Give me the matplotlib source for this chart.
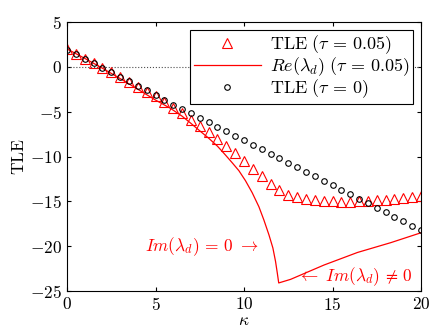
import numpy as np
import matplotlib
matplotlib.use("Agg")
import matplotlib.pyplot as plt

plt.rcParams['mathtext.fontset'] = 'cm'
plt.rcParams['font.family'] = 'serif'
plt.rcParams['font.serif'] = ['cmr10']
plt.rcParams['axes.formatter.use_mathtext'] = True
plt.rcParams['font.size'] = 12.5

# kappa grid of the markers
kappa = np.arange(0, 20.01, 0.5)

# TLE, tau = 0.05 (triangles)
tle_tau = [1.95, 1.43, 0.93, 0.43, -0.10, -0.62, -1.15, -1.68, -2.20, -2.75,
           -3.30, -3.90, -4.55, -5.20, -5.90, -6.55, -7.25, -8.05, -8.85, -9.65,
           -10.45, -11.35, -12.20, -13.05, -13.70, -14.25, -14.55, -14.75, -14.85, -14.95,
           -15.00, -15.05, -15.05, -15.00, -14.95, -14.90, -14.80, -14.70, -14.60, -14.55,
           -14.45]

# TLE, tau = 0 (circles)
tle_0 = [1.88, 1.43, 0.90, 0.43, -0.10, -0.60, -1.10, -1.60, -2.10, -2.60,
         -3.10, -3.65, -4.20, -4.68, -5.20, -5.70, -6.18, -6.70, -7.20, -7.70,
         -8.20, -8.70, -9.20, -9.75, -10.20, -10.70, -11.20, -11.70, -12.20, -12.70,
         -13.20, -13.70, -14.20, -14.70, -15.20, -15.70, -16.20, -16.70, -17.20, -17.70,
         -18.25]

# Re(lambda_d), tau = 0.05 (line)
re_k = [0, 1, 2, 3, 4, 5, 5.84, 6.5, 7, 7.54, 8.0, 8.5, 8.95, 9.33, 9.71, 10.08,
        10.46, 10.84, 11.12, 11.41, 11.63, 11.78, 11.88, 11.96,
        12.63, 14.52, 16.41, 18.3, 20]
re_v = [2.0, 0.95, -0.15, -1.3, -2.5, -3.7, -4.62, -5.5, -6.3, -7.2, -7.95, -8.85,
        -9.83, -10.69, -11.58, -12.69, -14.03, -15.6, -17.07, -18.75, -20.2, -21.7,
        -23.0, -24.1, -23.7, -22.1, -20.7, -19.6, -18.5]

fig = plt.figure(figsize=(4.36, 3.34), dpi=100)
ax = fig.add_axes([0.1537, 0.1287, 0.812, 0.8053])

ax.plot([0, 20], [0, 0], ':', color='0.3', lw=0.8)
ax.plot(kappa, tle_tau, '^', ms=7, mfc='none', mec='red', mew=0.8,
        label=r'$\mathrm{TLE}\ (\tau\,=\,0.05)$')
ax.plot(re_k, re_v, '-', color='red', lw=0.9,
        label=r'$Re(\lambda_d)\ (\tau\,=\,0.05)$')
ax.plot(kappa, tle_0, 'o', ms=4, mfc='none', mec='black', mew=0.8,
        label=r'$\mathrm{TLE}\ (\tau\,=\,0)$')

ax.text(4.4, -20.1, r'$Im(\lambda_d)\,=\,0\ \rightarrow$', color='red',
        fontsize=12.5, va='center', ha='left')
ax.text(13.0, -23.4, r'$\leftarrow\ Im(\lambda_d)\,\neq\,0$', color='red',
        fontsize=12.5, va='center', ha='left')

ax.set_xlim(0, 20)
ax.set_ylim(-25, 5)
ax.set_xticks([0, 5, 10, 15, 20])
ax.set_yticks([-25, -20, -15, -10, -5, 0, 5])
ax.tick_params(direction='in', top=True, right=True, length=3, labelsize=12.5)
ax.set_xlabel(r'$\kappa$', fontsize=12.5, labelpad=0)
ax.set_ylabel(r'$\mathrm{TLE}$', fontsize=12.5, labelpad=2)

leg = ax.legend(loc='upper right', fancybox=False, framealpha=1, edgecolor='black',
                fontsize=13, handlelength=3.7, borderpad=0.2, labelspacing=-0.05,
                borderaxespad=0.45, handletextpad=0.5)
leg.get_frame().set_linewidth(0.8)

fig.savefig('out.png', dpi=100)
